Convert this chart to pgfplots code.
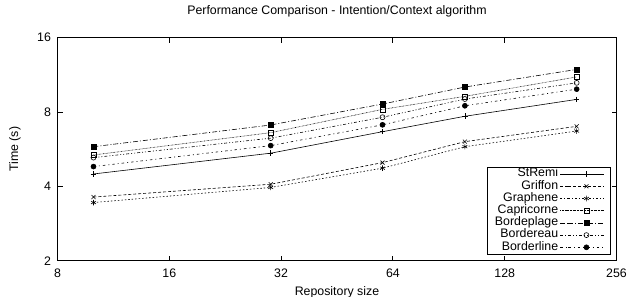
\documentclass[border=0pt]{standalone}
\usepackage{fontspec}
\setmainfont{Liberation Sans}
\usepackage{pgfplots}
\pgfplotsset{compat=1.18}
\newcommand\fs{\fontsize{12.4}{14}\selectfont}
\begin{document}
\begin{tikzpicture}
\path[use as bounding box] (-57.5bp,-36.3bp) rectangle (570.5bp,260.7bp);
\begin{axis}[
  at={(0,0)}, anchor=south west,
  scale only axis, width=559bp, height=223bp,
  xmode=log, log basis x=2, ymode=log, log basis y=2,
  xmin=8, xmax=256, ymin=2, ymax=16,
  xtick={8,16,32,64,128,256}, xticklabels={8,16,32,64,128,256},
  ytick={2,4,8,16}, yticklabels={2,4,8,16},
  tick align=inside, major tick length=5bp, minor tick num=0,
  /pgf/number format/assume math mode=true,
  axis line style={line width=0.9pt},
  every tick/.style={black, line width=0.8pt},
  title={Performance Comparison - Intention/Context algorithm},
  title style={font=\fs, at={(axis description cs:0.5,1)}, anchor=base, yshift=17.4bp},
  xlabel={Repository size}, ylabel={Time (s)},
  xlabel style={font=\fs, at={(axis description cs:0.5,0)}, anchor=base, yshift=-35bp},
  ylabel style={font=\fs, at={(axis description cs:-0.076,0.5)}, anchor=center},
  tick label style={font=\fs},
  xticklabel style={anchor=base, yshift=-16.3bp},
  yticklabel style={xshift=-3bp},
  legend cell align=right,
  legend plot pos=right,
  legend style={at={(0.9902,0.0269)}, anchor=south east, draw=black, line width=0.6pt,
    font=\fs, row sep=0pt, inner xsep=6bp, inner ysep=1bp,
    nodes={inner xsep=2bp, inner ysep=0pt, text height=8.9bp, text depth=3.3bp}},
  legend image code/.code={\path (0bp,0bp) -- (8bp,0bp);\draw[mark repeat=2,mark phase=2,#1] plot coordinates {(8bp,0bp) (26bp,0bp) (44bp,0bp)};},
  every axis plot/.append style={black, line width=0.6pt, mark size=2.8pt, mark options={solid}},
]
\addplot[mark=+] coordinates {(10,4.49) (30,5.45) (60,6.66) (100,7.69) (200,9.0)};
\addlegendentry{StRemi}
\addplot[mark=x, dash pattern=on 3pt off 2pt] coordinates {(10,3.62) (30,4.08) (60,4.99) (100,6.07) (200,7.0)};
\addlegendentry{Griffon}
\addplot[mark=asterisk, dash pattern=on 1.5pt off 2pt] coordinates {(10,3.44) (30,3.96) (60,4.74) (100,5.79) (200,6.7)};
\addlegendentry{Graphene}
\addplot[mark=square, mark size=2.5pt, dash pattern=on 0.6pt off 0.8pt] coordinates {(10,5.36) (30,6.6) (60,8.2) (100,9.26) (200,11.1)};
\addlegendentry{Capricorne}
\addplot[mark=square*, mark size=2.5pt, dash pattern=on 5pt off 2pt on 1pt off 2pt] coordinates {(10,5.79) (30,7.09) (60,8.62) (100,10.1) (200,11.9)};
\addlegendentry{Bordeplage}
\addplot[mark=o, mark size=2.5pt, dash pattern=on 3pt off 2pt on 1pt off 2pt on 1pt off 2pt] coordinates {(10,5.23) (30,6.27) (60,7.62) (100,9.03) (200,10.5)};
\addlegendentry{Bordereau}
\addplot[mark=*, mark size=2.5pt, dash pattern=on 2.5pt off 3pt on 1pt off 3pt] coordinates {(10,4.81) (30,5.85) (60,7.1) (100,8.48) (200,9.9)};
\addlegendentry{Borderline}
\end{axis}
\end{tikzpicture}
\end{document}
